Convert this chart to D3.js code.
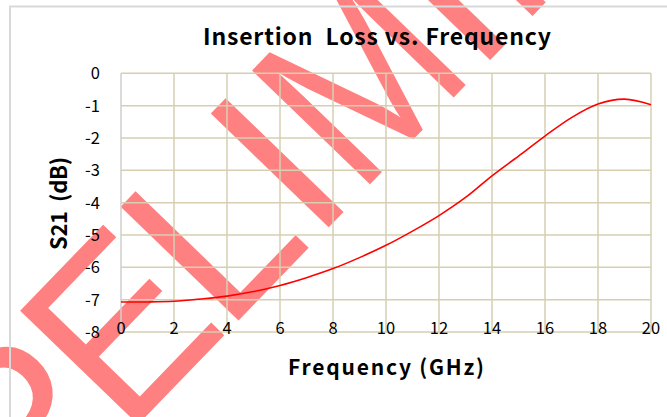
<!DOCTYPE html>
<html><head><meta charset="utf-8">
<script src="https://cdn.jsdelivr.net/npm/d3@7"></script>
<style>html,body{margin:0;padding:0;background:#fff;overflow:hidden}</style>
</head><body>
<svg id="c" width="667" height="417"></svg>
<script>
const freq = [0,1,2,3,4,5,6,7,8,9,10,11,12,13,14,15,16,17,18,19,20];
const s21 = [-7.07,-7.07,-7.05,-6.98,-6.89,-6.75,-6.56,-6.32,-6.04,-5.70,-5.32,-4.88,-4.40,-3.84,-3.17,-2.56,-1.94,-1.37,-0.95,-0.80,-0.97];
const xTicks = [0,2,4,6,8,10,12,14,16,18,20];
const yTicks = [0,-1,-2,-3,-4,-5,-6,-7,-8];
const titleText = "Insertion\u00a0\u00a0Loss vs. Frequency";
const xTitle = "Frequency\u00a0(GHz)";
const yTitle = "S21\u00a0\u00a0(dB)";
const watermark = "PRELIMINARY";

const svg = d3.select("#c");
const font = "'Noto Sans CJK KR','Noto Sans',sans-serif";
const x = d3.scaleLinear().domain([0,20]).range([121,651]);
const y = d3.scaleLinear().domain([-8,0]).range([332,73.3]);

// watermark (behind everything), laid out letter by letter
const wmFont = "'Liberation Sans',Arial,sans-serif", wmSize = 229;
const wm = svg.append("g").attr("transform","translate(225.5,334) rotate(-46) scale(1,1.04)");
const shift = [20,20,8,0,0,0,-22,-22,-22,-22,-22]; // per-letter nudge along baseline
const sx = [1,1,1,1,1,0.9,1,1,1,1,1];
const tmp = wm.append("text").attr("font-family",wmFont).attr("font-size",wmSize);
const adv = watermark.split("").map(ch=>{tmp.text(ch);return tmp.node().getComputedTextLength();});
tmp.remove();
const lIdx = 3;
let pos = [], acc = 0;
adv.forEach((a,i)=>{pos.push(acc); acc += a;});
const base = pos[lIdx];
watermark.split("").forEach((ch,i)=>{
  wm.append("text").attr("font-family",wmFont).attr("font-size",wmSize).attr("fill","#ff8080")
    .attr("transform",`translate(${pos[i]-base+shift[i]},0) scale(${sx[i]},1)`).text(ch);
});

// chart border
svg.append("rect").attr("x",10).attr("y",6.5).attr("width",680).attr("height",440)
  .attr("fill","none").attr("stroke","#d9d9d9").attr("stroke-width",2);

// grid
const grid = svg.append("g");
grid.selectAll(".h").data(yTicks).enter().append("line")
  .attr("x1",121).attr("x2",651).attr("y1",d=>y(d)).attr("y2",d=>y(d))
  .attr("stroke","#d6cfb2").attr("stroke-width",1.5);
grid.selectAll(".v").data(xTicks.slice(1)).enter().append("line")
  .attr("y1",73.3).attr("y2",332).attr("x1",d=>x(d)).attr("x2",d=>x(d))
  .attr("stroke","#d6cfb2").attr("stroke-width",1.5);
// left axis line
svg.append("line").attr("x1",x(0)).attr("x2",x(0)).attr("y1",73.3).attr("y2",332)
  .attr("stroke","#cfcfcf").attr("stroke-width",1.5);

// y tick labels
svg.append("g").selectAll("text").data(yTicks).enter().append("text")
  .attr("x",100).attr("y",d=>y(d)).attr("dy","0.36em").attr("text-anchor","end")
  .attr("font-family",font).attr("font-size",16.5).attr("fill","#000").text(d=>d);
// x tick labels
svg.append("g").selectAll("text").data(xTicks).enter().append("text")
  .attr("x",d=>x(d)).attr("y",334).attr("text-anchor","middle")
  .attr("font-family",font).attr("font-size",16.5).attr("fill","#000").text(d=>d);

// line
const line = d3.line().x((d,i)=>x(freq[i])).y(d=>y(d)).curve(d3.curveCatmullRom.alpha(0.5));
svg.append("path").attr("d",line(s21)).attr("fill","none").attr("stroke","#ff0000").attr("stroke-width",1.6);

// titles
svg.append("text").attr("x",377).attr("y",45).attr("text-anchor","middle")
  .attr("font-family",font).attr("font-weight","bold").attr("font-size",23)
  .attr("textLength",348).attr("lengthAdjust","spacing").text(titleText);
svg.append("text").attr("x",386).attr("y",375).attr("text-anchor","middle")
  .attr("font-family",font).attr("font-weight","bold").attr("font-size",21)
  .attr("textLength",196).attr("lengthAdjust","spacing").text(xTitle);
svg.append("text").attr("transform","translate(67,203.5) rotate(-90)").attr("text-anchor","middle")
  .attr("font-family",font).attr("font-weight","bold").attr("font-size",22)
  .attr("textLength",93).attr("lengthAdjust","spacing").text(yTitle);
</script>
</body></html>
